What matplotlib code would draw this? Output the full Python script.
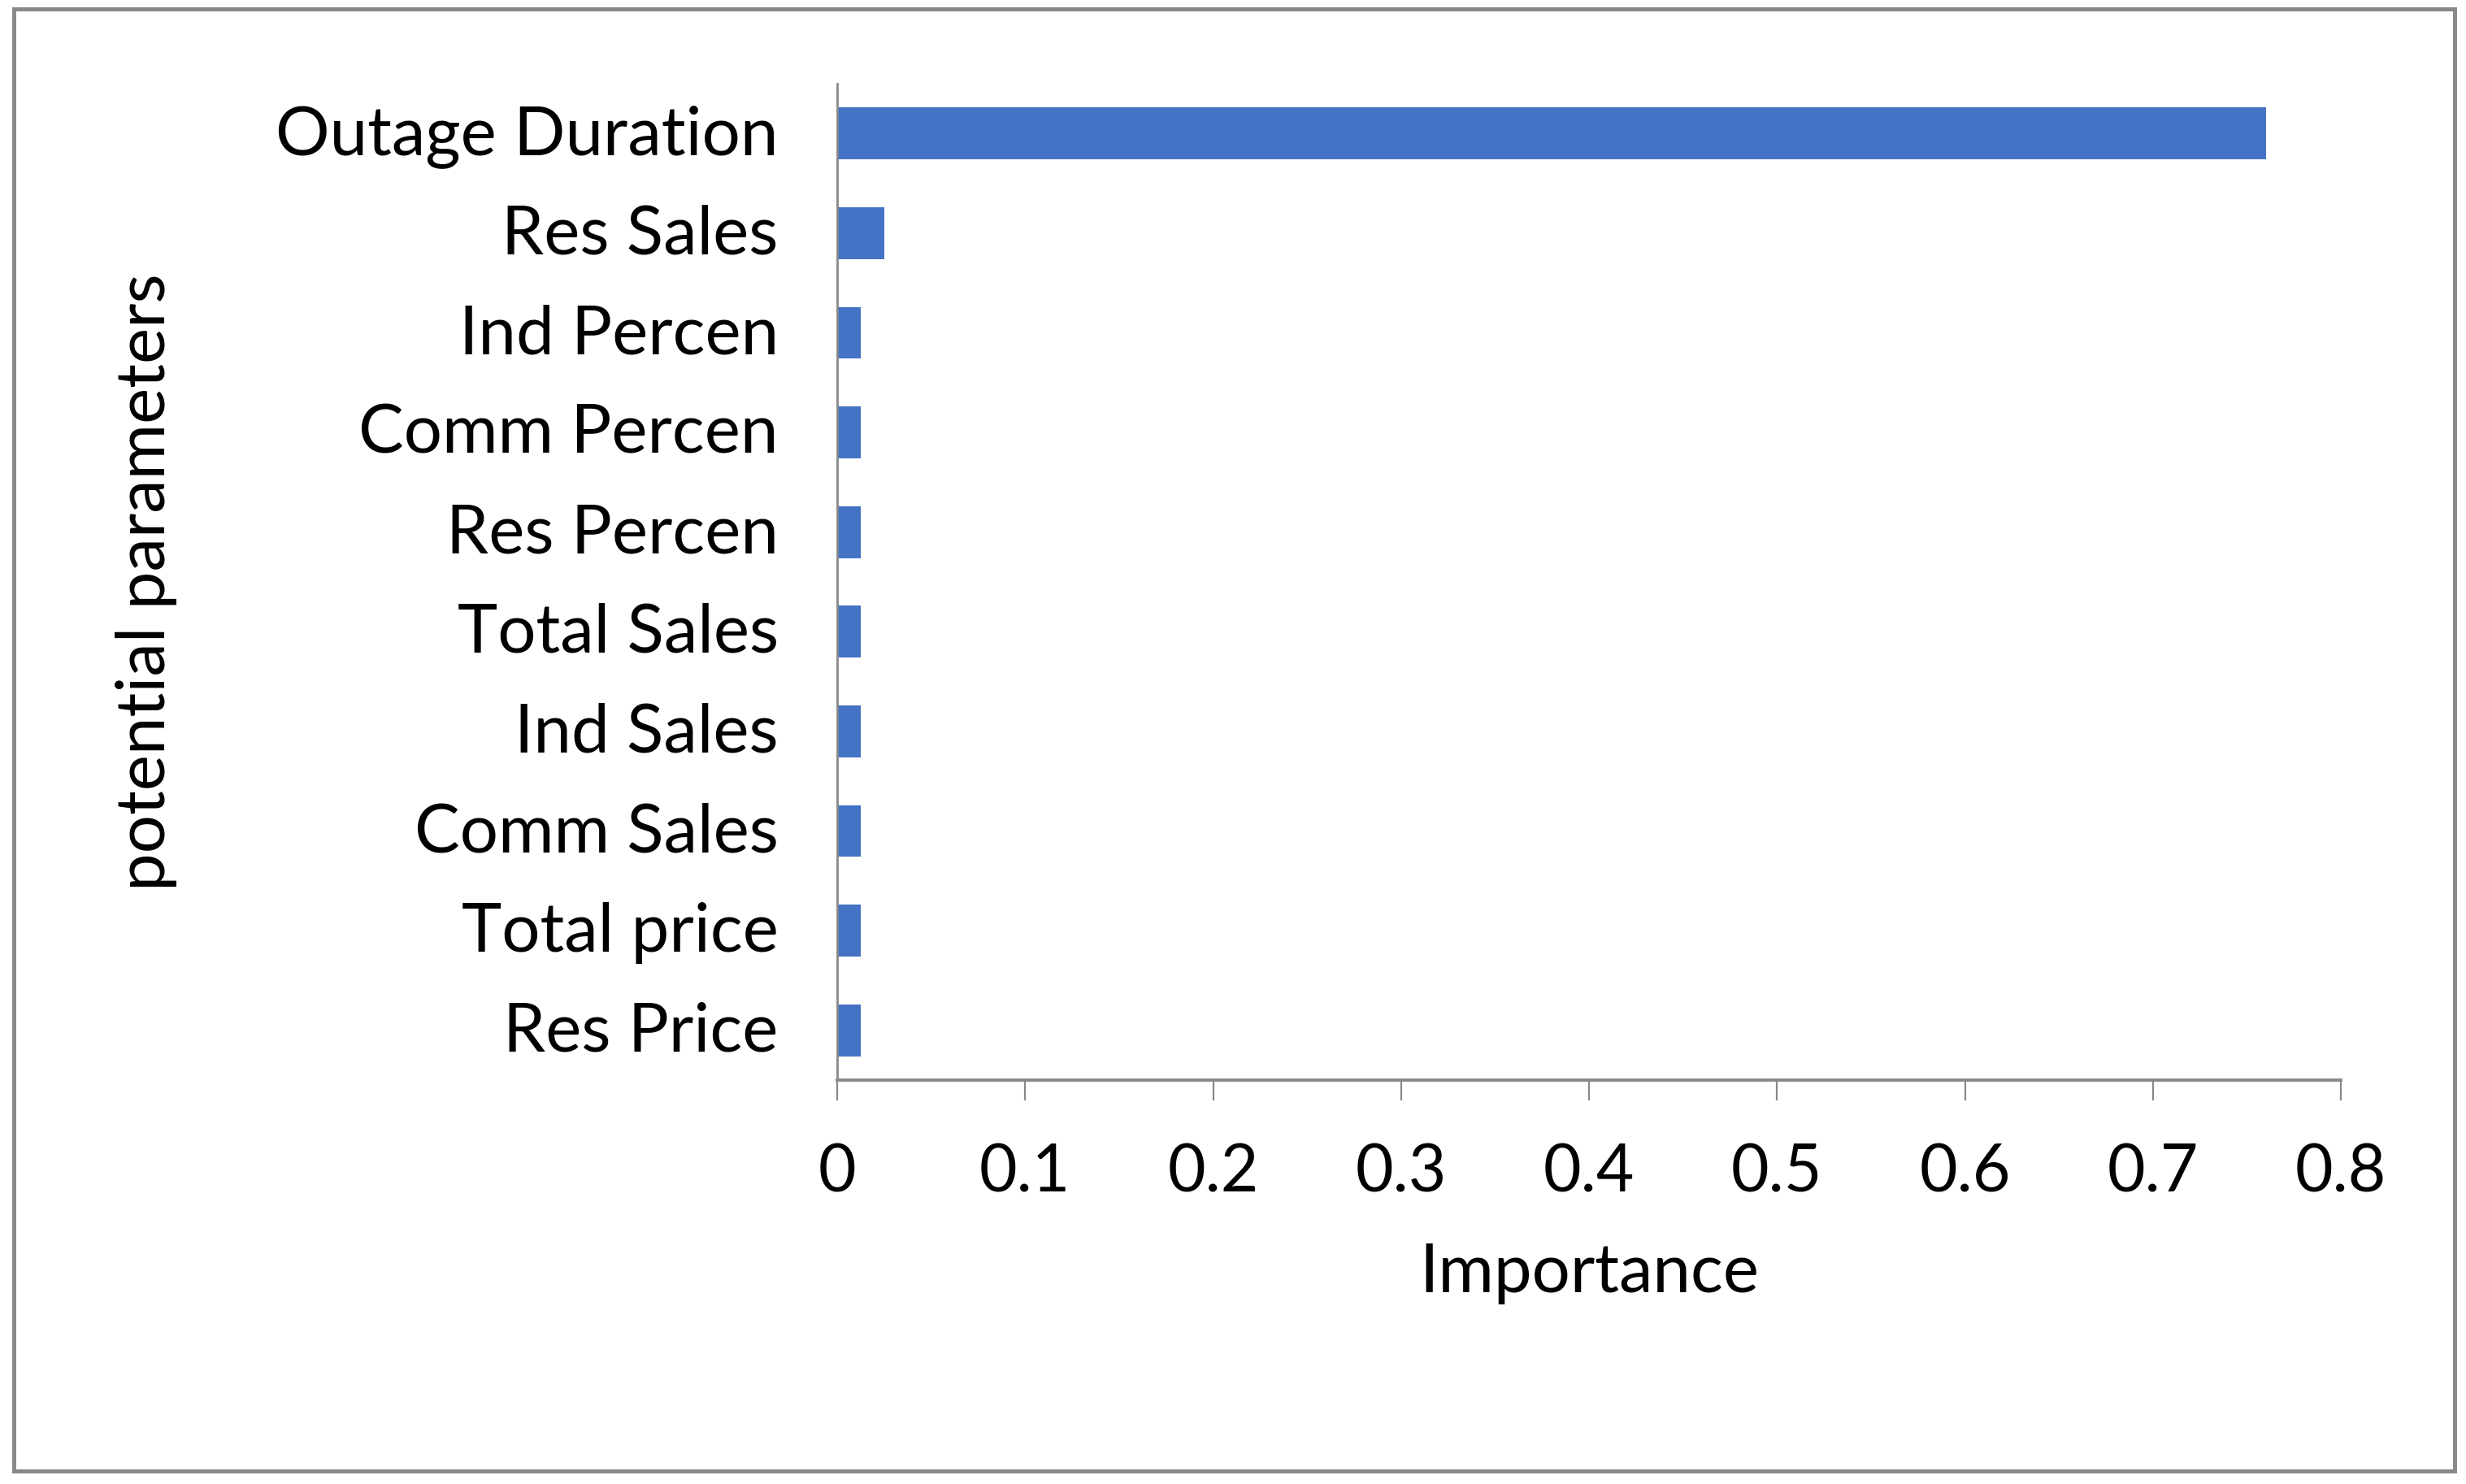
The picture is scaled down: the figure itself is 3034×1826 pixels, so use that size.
import matplotlib
matplotlib.use("Agg")
import matplotlib.pyplot as plt
import matplotlib.transforms as mtransforms
from matplotlib.patches import Rectangle

# ---------------------------------------------------------------------------
# Data (top of chart first)
# ---------------------------------------------------------------------------
params = ["Outage Duration", "Res Sales", "Ind Percen", "Comm Percen", "Res Percen",
          "Total Sales", "Ind Sales", "Comm Sales", "Total price", "Res Price"]
importance = [0.76, 0.025, 0.0125, 0.0125, 0.0125, 0.0125, 0.0125, 0.0125, 0.0125, 0.0125]
xticks = [0, 0.1, 0.2, 0.3, 0.4, 0.5, 0.6, 0.7, 0.8]

BAR = "#4472C4"
GRAY = "#898989"
W, H, DPI = 3034, 1826, 200

plt.rcParams["font.family"] = ["Lato", "DejaVu Sans"]

fig = plt.figure(figsize=(W / DPI, H / DPI), dpi=DPI)
ax = fig.add_axes([1030 / W, 1 - 1329 / H, (2880 - 1030) / W, (1329 - 103) / H])

y = list(range(len(params)))[::-1]
ax.barh(y, importance, height=0.52, color=BAR)

ax.set_xlim(0, 0.8)
ax.set_ylim(-0.5, len(params) - 0.5)
ax.set_xticks(xticks)
ax.set_xticklabels([f"{t:g}" for t in xticks])
ax.set_yticks(y)
ax.set_yticklabels(params)

for side in ("top", "right"):
    ax.spines[side].set_visible(False)
ax.spines["left"].set_color(GRAY)
ax.spines["left"].set_linewidth(1.0)
ax.spines["bottom"].set_color(GRAY)
ax.spines["bottom"].set_linewidth(1.4)
ax.tick_params(axis="x", length=9, width=0.8, color=GRAY, pad=19, labelsize=29)
ax.tick_params(axis="y", length=0, pad=26, labelsize=30)

# nudge category labels up a little (Excel centres them slightly higher)
shift = mtransforms.ScaledTranslation(0, 5 / DPI, fig.dpi_scale_trans)
for lab in ax.get_yticklabels():
    lab.set_transform(lab.get_transform() + shift)

ax.set_xlabel("Importance", fontsize=30)
ax.xaxis.set_label_coords(0.5, -0.163)
ax.set_ylabel("potential parameters", fontsize=30)
ax.yaxis.set_label_coords(-0.439, 0.5)

# outer chart-area border
fig.add_artist(Rectangle((17 / W, 1 - 1810 / H), (3020 - 17) / W, (1810 - 11) / H,
                         transform=fig.transFigure, fill=False, ec=GRAY, lw=1.8))

fig.savefig("out.png", dpi=DPI, facecolor="white")
